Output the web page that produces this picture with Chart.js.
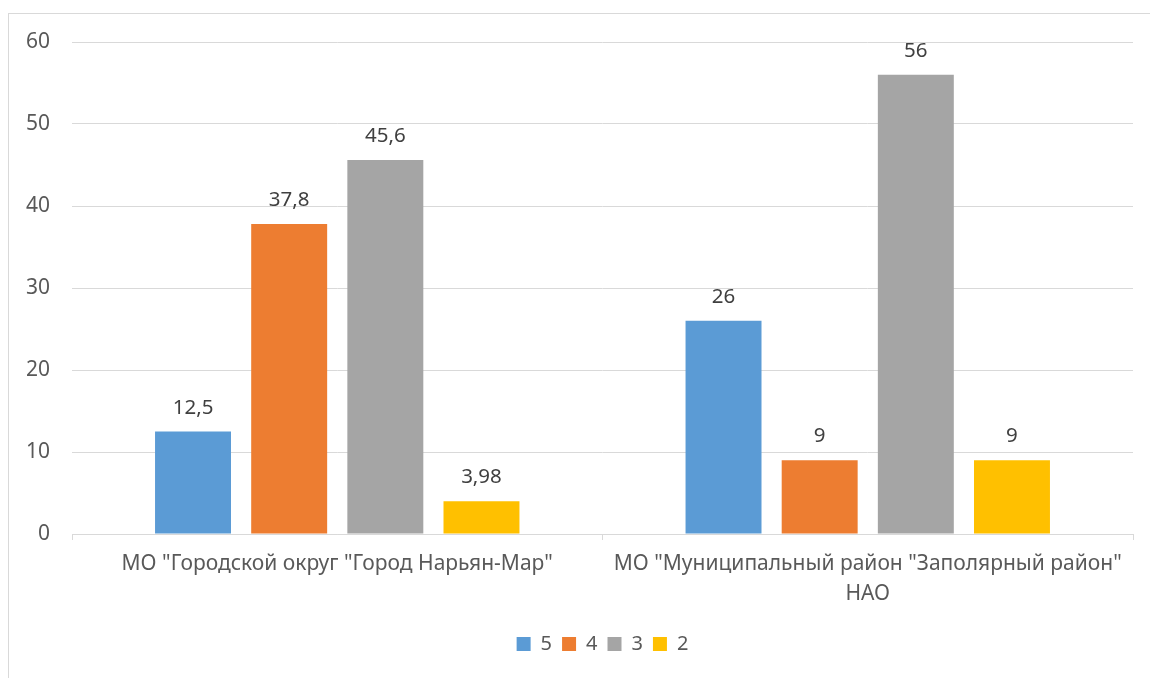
<!DOCTYPE html>
<html lang="ru">
<head>
<meta charset="UTF-8">
<title>Оценки</title>
<script src="https://cdn.jsdelivr.net/npm/chart.js"></script>
<style>
  html, body { margin: 0; padding: 0; background: #fff; }
  #wrap { position: relative; width: 1150px; height: 678px; }
  #frame { position: absolute; left: 8px; top: 13px; width: 1200px; height: 700px;
           border-left: 1px solid #d9d9d9; border-top: 1px solid #d9d9d9; }
  canvas { position: absolute; left: 0; top: 0; }
</style>
</head>
<body>
<div id="wrap">
  <div id="frame"></div>
  <canvas id="chart" width="1150" height="678"></canvas>
</div>
<script>
// categories and series
const categories = [
  'МО "Городской округ "Город Нарьян-Мар"',
  ['МО "Муниципальный район "Заполярный район"', 'НАО']
];
const seriesNames = ['5', '4', '3', '2'];
const grade5 = [12.5, 26];
const grade4 = [37.8, 9];
const grade3 = [45.6, 56];
const grade2 = [3.98, 9];
const colors = ['#5b9bd5', '#ed7d31', '#a5a5a5', '#ffc000'];
const yTicks = [0, 10, 20, 30, 40, 50, 60];

const fontFamily = '"Noto Sans", "Open Sans", sans-serif';

// value labels above bars
const valueLabels = {
  id: 'valueLabels',
  afterDatasetsDraw(chart) {
    const ctx = chart.ctx;
    ctx.save();
    ctx.font = '20.5px ' + fontFamily;
    ctx.fillStyle = '#404040';
    ctx.textAlign = 'center';
    ctx.textBaseline = 'alphabetic';
    chart.data.datasets.forEach((ds, i) => {
      chart.getDatasetMeta(i).data.forEach((bar, j) => {
        const txt = String(ds.data[j]).replace('.', ',');
        ctx.fillText(txt, bar.x, bar.y - 18);
      });
    });
    ctx.restore();
  }
};

new Chart(document.getElementById('chart'), {
  type: 'bar',
  data: {
    labels: categories,
    datasets: [grade5, grade4, grade3, grade2].map((d, i) => ({
      label: seriesNames[i],
      data: d,
      backgroundColor: colors[i],
      categoryPercentage: 0.725,
      barPercentage: 0.79
    }))
  },
  options: {
    responsive: false,
    animation: false,
    layout: { padding: { top: 42, right: 17, left: 0, bottom: 14 } },
    plugins: {
      tooltip: { enabled: false },
      legend: {
        position: 'bottom',
        fullSize: false,
        labels: {
          boxWidth: 14, boxHeight: 14, padding: 10,
          color: '#595959',
          font: { size: 20, family: fontFamily }
        }
      }
    },
    scales: {
      x: {
        grid: { offset: true, drawOnChartArea: false, drawTicks: true, tickLength: 6, color: '#d9d9d9' },
        border: { color: '#d9d9d9' },
        ticks: { color: '#595959', font: { size: 21, family: fontFamily, lineHeight: 1.42 }, padding: 9,
                 maxRotation: 0, autoSkip: false },
        afterFit(s) { s.height = 90; }
      },
      y: {
        min: 0, max: 60,
        afterBuildTicks(s) { s.ticks = yTicks.map(v => ({ value: v })); },
        grid: { color: '#d9d9d9', drawTicks: false },
        border: { display: false },
        ticks: { color: '#595959', font: { size: 21, family: fontFamily }, padding: 22 },
        afterFit(s) { s.width = 72; }
      }
    }
  },
  plugins: [valueLabels]
});
</script>
</body>
</html>
